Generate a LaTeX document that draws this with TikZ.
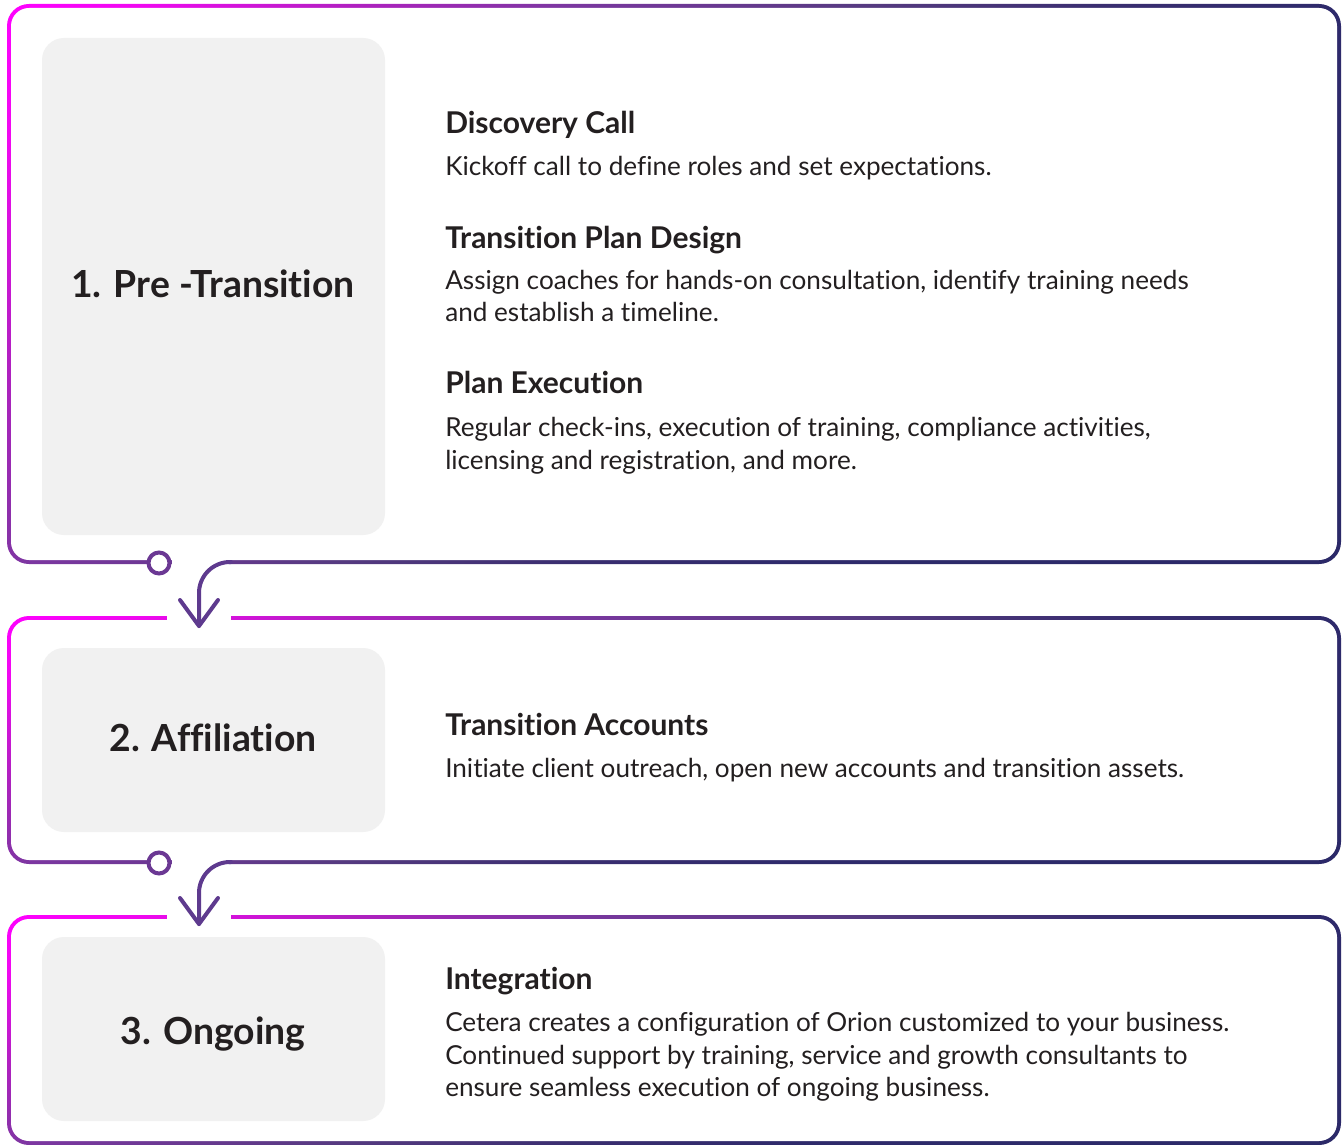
\documentclass[tikz,border=0pt]{standalone}
\usepackage{fontspec}
\setmainfont{Lato}[Ligatures=NoCommon]
\usetikzlibrary{calc}
\definecolor{txt}{HTML}{231F20}
\definecolor{boxgray}{HTML}{F1F1F1}
\definecolor{gmag}{HTML}{FF00FF}
\definecolor{gmaga}{HTML}{F008F0}
\definecolor{gmagb}{HTML}{B020C0}
\definecolor{gpur}{HTML}{7B37A0}
\definecolor{gpurb}{HTML}{553A80}
\definecolor{gnavb}{HTML}{3A2E70}
\definecolor{gnav}{HTML}{2E2A6B}
\definecolor{gnavc}{HTML}{2B2968}
\definecolor{arrowcol}{HTML}{5E3A8E}
\definecolor{circcol}{HTML}{6B3893}
\pgfdeclarehorizontalshading{bordershade}{100bp}{color(0bp)=(gmag); color(25bp)=(gmag); color(28.6bp)=(gmaga); color(34.3bp)=(gmagb); color(40bp)=(gpur); color(48.2bp)=(gpurb); color(54.3bp)=(gnavb); color(60.7bp)=(gnav); color(75bp)=(gnavc); color(100bp)=(gnavc)}
\tikzset{
  lbl/.style={font=\fontsize{28}{32}\selectfont\bfseries, text=txt, inner sep=0pt, anchor=base},
  hd/.style={font=\fontsize{22.5}{26}\selectfont\bfseries, text=txt, inner sep=0pt, anchor=base west},
  bd/.style={font=\fontsize{19.6}{24}\selectfont, text=txt, inner sep=0pt, anchor=base west},
  graybox/.style={fill=boxgray, rounded corners=16.5pt},
  gapcut/.style={fill=white},
  ringinner/.style={fill=white, rounded corners=13.5pt},
  ringcirc/.style={draw=circcol, line width=3pt, fill=white, circle, minimum size=15.75pt, inner sep=0pt},
  arrowline/.style={draw=arrowcol, line width=3pt, line cap=round, line join=round, rounded corners=23.25pt},
  arrowhd/.style={draw=arrowcol, line width=3pt, line cap=round, line join=round}
}
% #1 x0, #2 y0, #3 x1, #4 y1 (outer edge, px); #5 d = -0.0075*H
\newcommand\gradring[5]{%
  \begin{scope}
    \clip[rounded corners=16.5pt] (#1,#2) rectangle (#3,#4);
    \shade[shading=bordershade, transform canvas={cm={14.007,0,-4.002,#5,(#1,#2)}}]
      (0pt,0pt) rectangle (100pt,100pt);
  \end{scope}
  \fill[ringinner] ($(#1,#2)+(4,4)$) rectangle ($(#3,#4)+(-4,-4)$);}
\begin{document}
\begin{tikzpicture}[x=0.75pt,y=-0.75pt]
\useasboundingbox (0,0) rectangle (1342,1145);
% ---------- panel borders (gradient rings) ----------
\gradring{7}{4}{1341}{564}{-4.2}
\gradring{7}{616}{1341}{864}{-1.86}
\gradring{7}{915}{1341}{1145}{-1.725}
% gaps
\fill[gapcut] (172,555) rectangle (229,569);
\fill[gapcut] (167,611) rectangle (231,625);
\fill[gapcut] (172,855) rectangle (229,870);
\fill[gapcut] (167,910) rectangle (231,924);
% ---------- gray boxes ----------
\fill[graybox] (42,38) rectangle (385,535);
\fill[graybox] (42,648) rectangle (385,832);
\fill[graybox] (42,937) rectangle (385,1121);
% ---------- connectors ----------
\node[ringcirc] (c1) at (159,563) {};
\node[ringcirc] (c2) at (159,863) {};
\coordinate (s1) at (231,562);
\coordinate (t1) at (199,626);
\coordinate (s2) at (231,862);
\coordinate (t2) at (199,924);
\draw[arrowline] (s1) -| (t1);
\draw[arrowhd] ($(t1)+(-19,-26)$) -- (t1) -- ($(t1)+(19,-26)$);
\draw[arrowline] (s2) -| (t2);
\draw[arrowhd] ($(t2)+(-19,-26)$) -- (t2) -- ($(t2)+(19,-26)$);
% ---------- labels ----------
\node[lbl] (l1) at (213,297) {1. Pre -Transition};
\node[lbl] (l2) at (213,751) {2. Affiliation};
\node[lbl] (l3) at (213,1044) {3. Ongoing};
% ---------- panel 1 text ----------
\node[hd] (h1) at (445,133.5) {Discovery Call};
\node[bd] (b1) at (445,175.5) {Kickoff call to define roles and set expectations.};
\node[hd] (h2) at (445,248.5) {Transition Plan Design};
\node[bd] (b2a) at (445,289.5) {Assign coaches for hands-on consultation, identify training needs};
\node[bd] (b2b) at (445,321.5) {and establish a timeline.};
\node[hd] (h3) at (445,393.5) {Plan Execution};
\node[bd] (b3a) at (445,436.5) {Regular check-ins, execution of training, compliance activities,};
\node[bd] (b3b) at (445,469.5) {licensing and registration, and more.};
% ---------- panel 2 text ----------
\node[hd] (h4) at (445,735.5) {Transition Accounts};
\node[bd] (b4) at (445,777.5) {Initiate client outreach, open new accounts and transition assets.};
% ---------- panel 3 text ----------
\node[hd] (h5) at (445,989.5) {Integration};
\node[bd] (b5a) at (445,1031.5) {Cetera creates a configuration of Orion customized to your business.};
\node[bd] (b5b) at (445,1064.5) {Continued support by training, service and growth consultants to};
\node[bd] (b5c) at (445,1096.5) {ensure seamless execution of ongoing business.};
\end{tikzpicture}
\end{document}
